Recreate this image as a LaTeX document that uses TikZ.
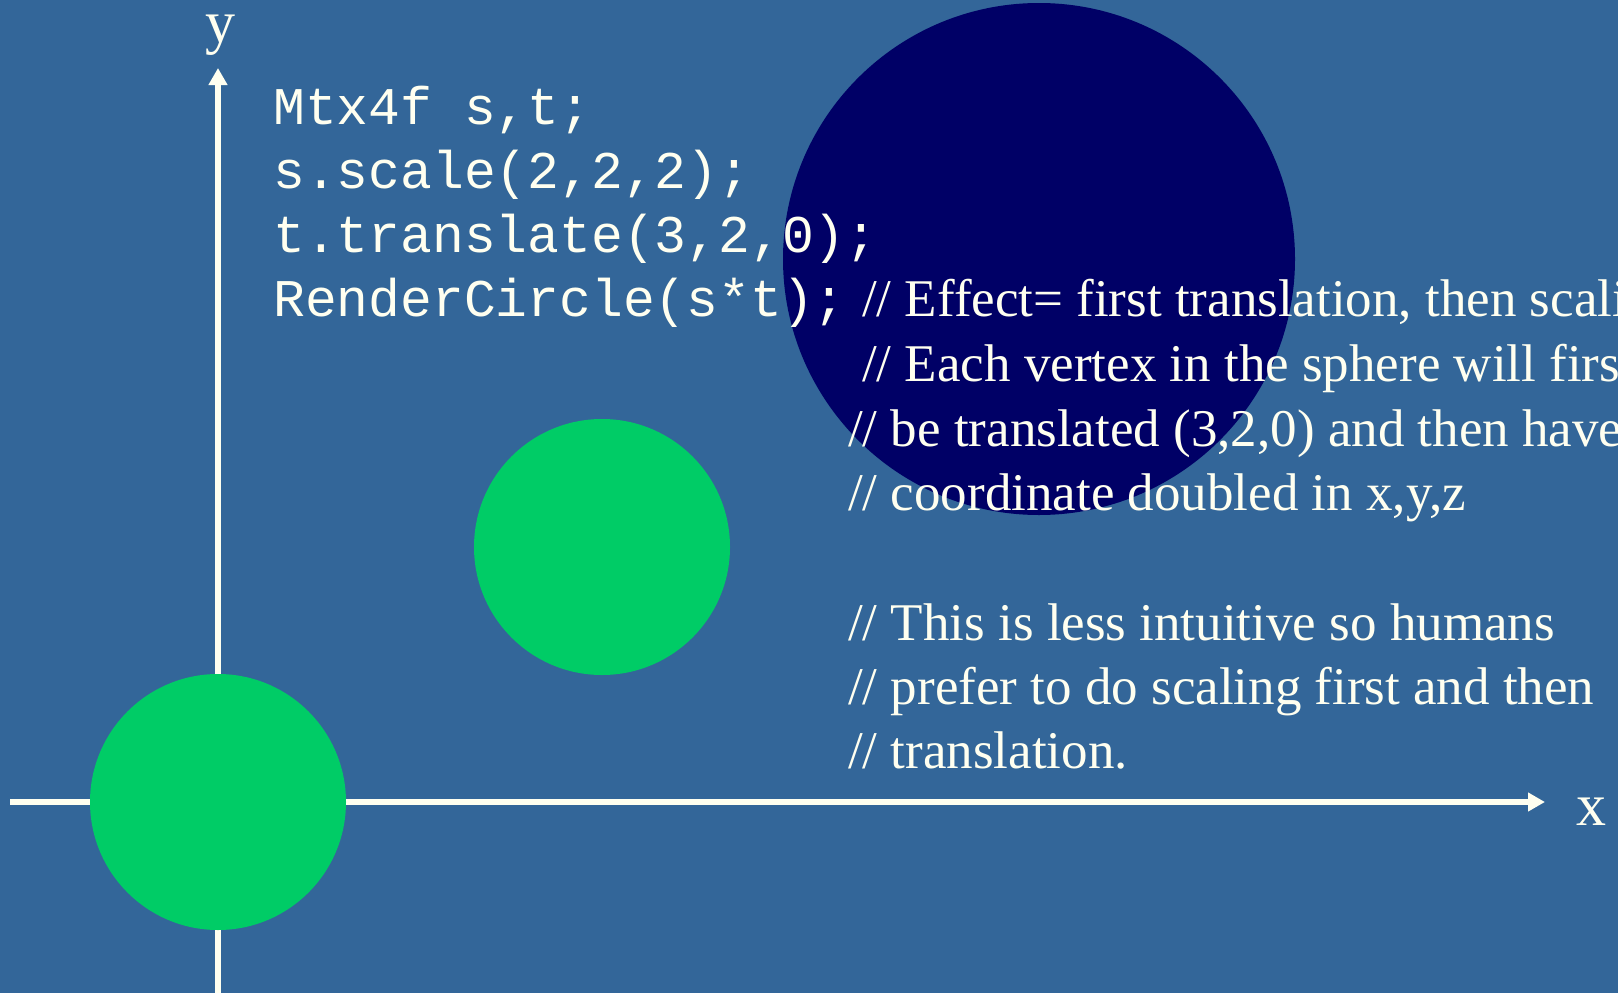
\documentclass[tikz,border=0pt]{standalone}
\usepackage{fontspec}
\setmainfont{Liberation Serif}
\setmonofont{Liberation Mono}
\usetikzlibrary{arrows.meta}
\definecolor{bg}{RGB}{51,102,153}
\definecolor{navy}{RGB}{0,0,102}
\definecolor{grn}{RGB}{0,204,102}
\definecolor{ink}{RGB}{255,255,240}
\begin{document}
\begin{tikzpicture}[x=1pt,y=-1pt,
 ball/.style={circle,fill=grn,minimum size=256pt,inner sep=0pt,draw=none},
 bigball/.style={circle,fill=navy,minimum size=512pt,inner sep=0pt,draw=none},
 axis/.style={draw=ink,line width=6pt,-{Triangle[length=17pt,width=18pt]}},
 code/.style={anchor=base west,inner sep=0pt,text=ink,font=\fontsize{53}{64}\selectfont\ttfamily},
 note/.style={anchor=base west,inner sep=0pt,text=ink,font=\fontsize{53}{64}\selectfont\rmfamily},
 lbl/.style={anchor=base,inner sep=0pt,text=ink,font=\fontsize{60}{60}\selectfont\rmfamily}]
\useasboundingbox (0,0) rectangle (1618,993);
\clip (0,0) rectangle (1618,993);
\fill[bg] (0,0) rectangle (1618,993);
% axes
\coordinate (xs) at (10,802);
\coordinate (xe) at (1545,802);
\coordinate (ys) at (218,1000);
\coordinate (ye) at (218,68);
\draw[axis] (xs) -- (xe);
\draw[axis] (ys) -- (ye);
\node[lbl] (xl) at (1591,825) {x};
\node[lbl] (yl) at (220,42) {y};
% circles
\node[bigball] (big) at (1039,259) {};
\node[ball] (g1) at (218,802) {};
\node[ball] (g2) at (602,547) {};
% code
\node[code] (c1) at (273,124) {Mtx4f s,t;};
\node[code] (c2) at (273,188) {s.scale(2,2,2);};
\node[code] (c3) at (273,252) {t.translate(3,2,0);};
\node[code] (c4) at (273,316) {RenderCircle(s*t);};
% comments
\node[note] (n1) at (862,316) {// Effect= first translation, then scaling};
\node[note] (n2) at (862,381) {// Each vertex in the sphere will first};
\node[note] (n3) at (848,446) {// be translated (3,2,0) and then have};
\node[note] (n4) at (848,510) {// coordinate doubled in x,y,z};
\node[note] (n5) at (848,640) {// This is less intuitive so humans};
\node[note] (n6) at (848,704) {// prefer to do scaling first and then};
\node[note] (n7) at (848,768) {// translation.};
\end{tikzpicture}
\end{document}
